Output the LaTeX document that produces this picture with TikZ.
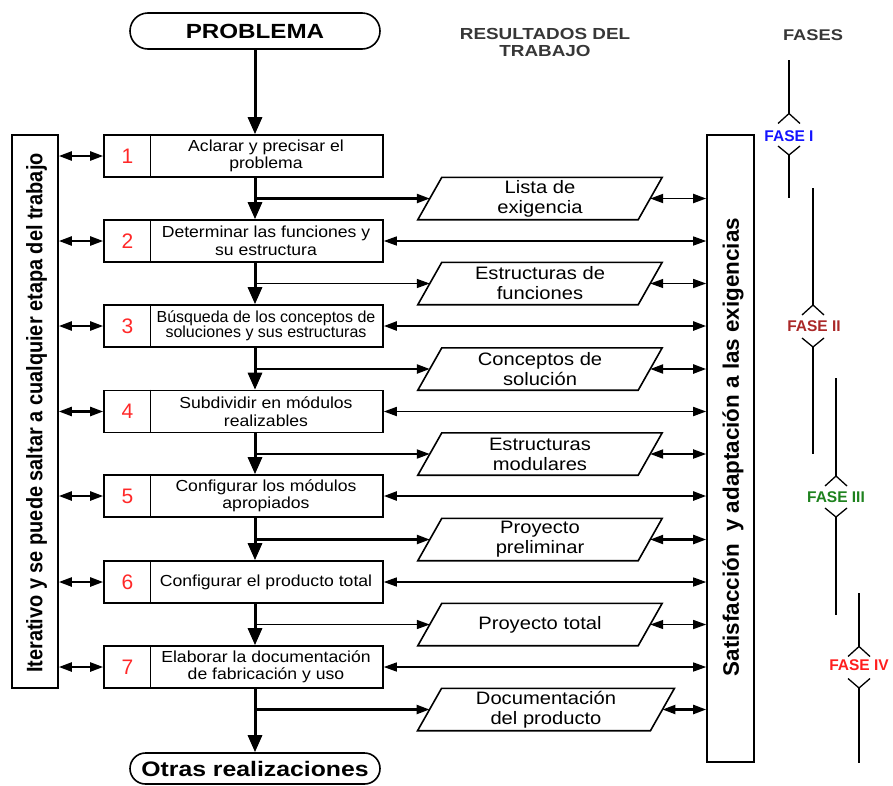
\documentclass[tikz,border=0pt]{standalone}
\usepackage{fontspec}
\setmainfont{Liberation Sans}
\newfontfamily\stepf[FakeStretch=1.1]{Liberation Sans}
\newfontfamily\parf[FakeStretch=1.12]{Liberation Sans}
\newfontfamily\headf[FakeStretch=1.18]{Liberation Sans}
\newfontfamily\condf[FakeStretch=0.89]{Liberation Sans}
\usetikzlibrary{arrows.meta,calc}
\definecolor{numred}{RGB}{255,40,40}
\definecolor{faseI}{RGB}{20,20,255}
\definecolor{faseII}{RGB}{170,40,40}
\definecolor{faseIII}{RGB}{30,130,30}
\definecolor{faseIV}{RGB}{255,30,30}
\definecolor{hdr}{RGB}{55,55,55}
\newcommand\paraframe[1]{\draw[pshape] ([xshift=12pt]#1.north west) -- ([xshift=12pt]#1.north east) -- ([xshift=-12pt]#1.south east) -- ([xshift=-12pt]#1.south west) -- cycle;}
\begin{document}
\begin{tikzpicture}[x=1pt,y=-1pt,
  stepbox/.style={draw,line width=1.6pt,minimum width=279,minimum height=42,inner sep=0},
  divider/.style={line width=1.1pt},
  steptext/.style={font=\stepf\fontsize{16}{17.5}\selectfont,align=center,inner sep=0},
  numtext/.style={font=\fontsize{21}{21}\selectfont,text=numred,inner sep=0},
  resbox/.style={minimum width=220,minimum height=42,inner sep=0,font=\parf\fontsize{18}{20}\selectfont,align=center},
  pshape/.style={line width=1.6pt,line join=miter},
  term/.style={draw,line width=1.6pt,inner sep=0},
  bar/.style={draw,line width=1.6pt,inner sep=0},
  bartext/.style={rotate=90,inner sep=0},
  fase/.style={font=\bfseries\fontsize{15.5}{15.5}\selectfont,inner sep=0},
  phl/.style={line width=1.3pt},
  phthick/.style={line width=2.8pt},
  flow/.style={line width=3pt,-{Triangle[length=17pt,width=14pt]}},
  brthick/.style={line width=2.3pt,-{Triangle[length=13pt,width=9pt]}},
  brthin/.style={line width=1.4pt,-{Triangle[length=13pt,width=9pt]}},
  dblthick/.style={line width=2.3pt,{Triangle[length=13pt,width=9pt]}-{Triangle[length=13pt,width=9pt]}},
  dblthin/.style={line width=1.4pt,{Triangle[length=13pt,width=9pt]}-{Triangle[length=13pt,width=9pt]}}
]
\useasboundingbox (0,0) rectangle (893,785);

% terminals
\node[term,minimum width=250,minimum height=36,rounded corners=18pt,font=\headf\bfseries\fontsize{20.5}{20.5}\selectfont] (prob) at (255,31) {PROBLEMA};
\node[term,minimum width=250,minimum height=31,rounded corners=15.5pt,font=\headf\bfseries\fontsize{21}{21}\selectfont] (otras) at (255,768.5) {Otras realizaciones};

% headers
\node[font=\headf\bfseries\fontsize{16}{17}\selectfont,text=hdr,align=center,inner sep=0] (res) at (545,42) {RESULTADOS DEL\\TRABAJO};
\node[font=\headf\bfseries\fontsize{15.5}{15.5}\selectfont,text=hdr,inner sep=0] (fases) at (813,35) {FASES};

% bars
\node[bar,minimum width=46,minimum height=553] (lbar) at (35,411.5) {};
\node[bartext,font=\condf\bfseries\fontsize{22.4}{22.4}\selectfont] (ltext) at (36.5,413) {Iterativo y se puede saltar a cualquier etapa del trabajo};
\node[bar,minimum width=47,minimum height=627] (rbar) at (730.5,448.5) {};
\node[bartext,font=\bfseries\fontsize{22.4}{22.4}\selectfont] (rtext) at (733,447) {Satisfacción~ y adaptación a las exigencias};

% step boxes
\node[stepbox] (s1) at (243.5,156) {};
\node[stepbox] (s2) at (243.5,241) {};
\node[stepbox] (s3) at (243.5,326) {};
\node[stepbox] (s4) at (243.5,411.5) {};
\node[stepbox] (s5) at (243.5,496) {};
\node[stepbox] (s6) at (243.5,582) {};
\node[stepbox] (s7) at (243.5,667) {};
\foreach \s in {s1,s2,s3,s4,s5,s6,s7}{
  \draw[divider] ([xshift=47pt]\s.north west) -- ([xshift=47pt]\s.south west);
}
\node[numtext] (n1) at (127.5,156) {1};
\node[numtext] (n2) at (127.5,241) {2};
\node[numtext] (n3) at (127.5,326) {3};
\node[numtext] (n4) at (127.5,411.5) {4};
\node[numtext] (n5) at (127.5,496) {5};
\node[numtext] (n6) at (127.5,582) {6};
\node[numtext] (n7) at (127.5,667) {7};
\node[steptext] (t1) at (266,156) {Aclarar y precisar el\\problema};
\node[steptext] (t2) at (266,241) {Determinar las funciones y\\su estructura};
\node[steptext,font=\fontsize{16}{15.5}\selectfont] (t3) at (266,326) {Búsqueda de los conceptos de\\soluciones y sus estructuras};
\node[steptext] (t4) at (266,411.5) {Subdividir en módulos\\realizables};
\node[steptext] (t5) at (266,496) {Configurar los módulos\\apropiados};
\node[steptext] (t6) at (266,582) {Configurar el producto total};
\node[steptext] (t7) at (266,667) {Elaborar la documentación\\de fabricación y uso};

% result parallelograms
\node[resbox] (p1) at (540,198.5) {Lista de\\exigencia};
\node[resbox] (p2) at (540,283.5) {Estructuras de\\funciones};
\node[resbox] (p3) at (540,369) {Conceptos de\\solución};
\node[resbox] (p4) at (540,454) {Estructuras\\modulares};
\node[resbox] (p5) at (540,539.5) {Proyecto\\preliminar};
\node[resbox] (p6) at (540,624.5) {Proyecto total};
\node[resbox,minimum width=232.5] (p7) at (546,709.5) {Documentación\\del producto};
\foreach \p in {p1,p2,p3,p4,p5,p6,p7}{\paraframe{\p}}

% main flow
\draw[flow] (prob.south) -- (prob.south |- s1.north);
\draw[flow] (prob |- s1.south) -- (prob |- s2.north);
\draw[flow] (prob |- s2.south) -- (prob |- s3.north);
\draw[flow] (prob |- s3.south) -- (prob |- s4.north);
\draw[flow] (prob |- s4.south) -- (prob |- s5.north);
\draw[flow] (prob |- s5.south) -- (prob |- s6.north);
\draw[flow] (prob |- s6.south) -- (prob |- s7.north);
\draw[flow] (prob |- s7.south) -- (otras.north);

% branches to results
\draw[brthick] (prob |- p1) -- (p1.west);
\draw[brthin] (prob |- p2) -- (p2.west);
\draw[brthick] (prob |- p3) -- (p3.west);
\draw[brthick,line width=1.9pt] (prob |- p4) -- (p4.west);
\draw[brthick] (prob |- p5) -- (p5.west);
\draw[brthin] (prob |- p6) -- (p6.west);
\draw[brthick] (prob |- p7) -- (p7.west);

% results to right bar
\draw[dblthick,line width=1.9pt] (p1.east) -- (rbar.west |- p1);
\draw[dblthin] (p2.east) -- (rbar.west |- p2);
\draw[dblthick] (p3.east) -- (rbar.west |- p3);
\draw[dblthick,line width=1.9pt] (p4.east) -- (rbar.west |- p4);
\draw[dblthick] (p5.east) -- (rbar.west |- p5);
\draw[dblthin] (p6.east) -- (rbar.west |- p6);
\draw[dblthick] (p7.east) -- (rbar.west |- p7);

% steps to right bar
\draw[dblthin] (s2.east) -- (rbar.west |- s2);
\draw[dblthick] (s3.east) -- (rbar.west |- s3);
\draw[dblthin,line width=1.7pt] (s4.east) -- (rbar.west |- s4);
\draw[dblthick] (s5.east) -- (rbar.west |- s5);
\draw[dblthin] (s6.east) -- (rbar.west |- s6);
\draw[dblthin] (s7.east) -- (rbar.west |- s7);

% left bar to steps
\foreach \s in {s1,s2,s3,s4,s5,s6,s7}{
  \draw[dblthick] (lbar.east |- \s) -- (\s.west);
}

% phases
\node[fase,text=faseI] (f1) at (789,136.5) {FASE I};
\node[fase,text=faseII] (f2) at (814,326.5) {FASE II};
\node[fase,text=faseIII] (f3) at (836,497) {FASE III};
\node[fase,text=faseIV] (f4) at (859,665.5) {FASE IV};
\coordinate (f1a) at (789,60);   \coordinate (f1b) at (789,198);
\coordinate (f2a) at (813,188);  \coordinate (f2b) at (813,454);
\coordinate (f3a) at (836,378);  \coordinate (f3b) at (836,615);
\coordinate (f4a) at (859,593);  \coordinate (f4b) at (859,763);

\draw[phl] (f1a) -- ($(f1)+(0,-23)$);
\draw[phl] ($(f1)+(-11,-13)$) -- ($(f1)+(0,-23)$) -- ($(f1)+(11,-13)$);
\draw[phl] ($(f1)+(-11,9.5)$) -- ($(f1)+(0,18.5)$) -- ($(f1)+(11,9.5)$);
\draw[phl] ($(f1)+(0,18.5)$) -- (f1b);

\draw[phthick] (f2a) -- ($(f2)+(-1,-21.5)$);
\draw[phl] ($(f2)+(-12,-11.5)$) -- ($(f2)+(-1,-21.5)$) -- ($(f2)+(10,-11.5)$);
\draw[phl] ($(f2)+(-12,11.5)$) -- ($(f2)+(-1,20.5)$) -- ($(f2)+(10,11.5)$);
\draw[phl] ($(f2)+(-1,20.5)$) -- (f2b);

\draw[phl] (f3a) -- ($(f3)+(0,-21)$);
\draw[phl] ($(f3)+(-11,-11)$) -- ($(f3)+(0,-21)$) -- ($(f3)+(11,-11)$);
\draw[phl] ($(f3)+(-11,11)$) -- ($(f3)+(0,20)$) -- ($(f3)+(11,11)$);
\draw[phl] ($(f3)+(0,20)$) -- (f3b);

\draw[phl] (f4a) -- ($(f4)+(0,-19)$);
\draw[phl] ($(f4)+(-11,-9)$) -- ($(f4)+(0,-19)$) -- ($(f4)+(11,-9)$);
\draw[phl] ($(f4)+(-11,13)$) -- ($(f4)+(0,22.5)$) -- ($(f4)+(11,13)$);
\draw[phl] ($(f4)+(0,22.5)$) -- (f4b);
\end{tikzpicture}
\end{document}
